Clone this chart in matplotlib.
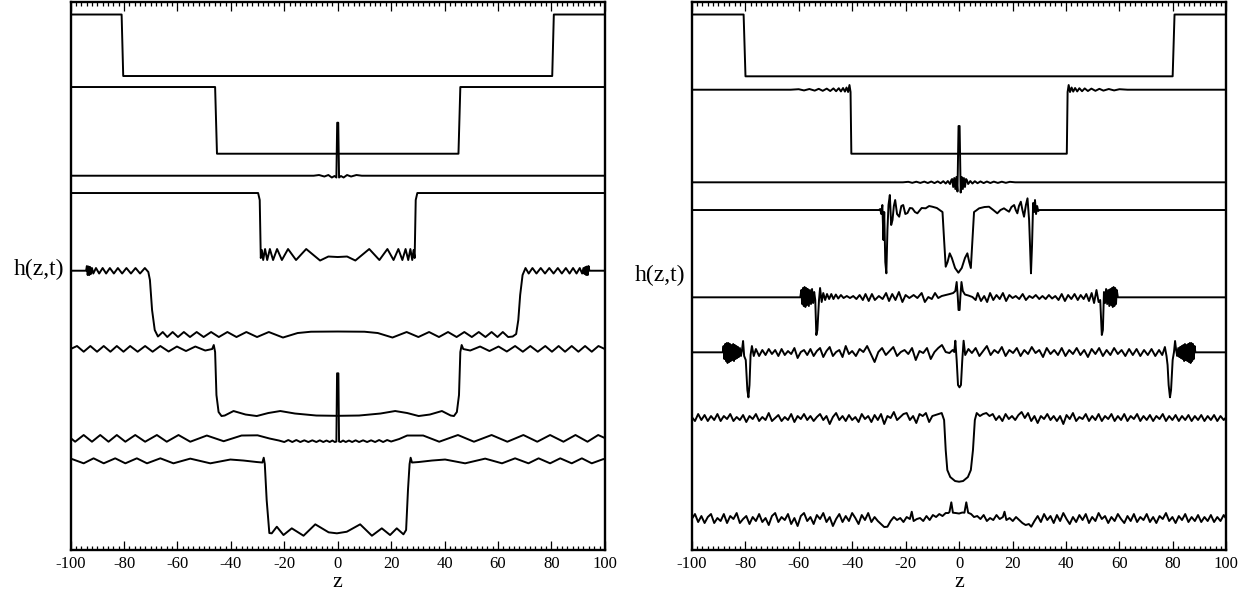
import matplotlib
matplotlib.use("Agg")
import matplotlib.pyplot as plt
from matplotlib.ticker import MultipleLocator

plt.rcParams['font.family'] = ['Liberation Serif', 'DejaVu Serif']
plt.rcParams['axes.unicode_minus'] = False

# curves: (z, vertical position in pixels from the top)
# left panel, top to bottom
left_1 = [(-100, 14.5), (-80.9, 14.5), (-80.3, 76), (80.3, 76), (80.9, 14.5), (100, 14.5)]
left_2 = [(-100, 87), (-45.9, 87), (-45.2, 153.7), (45.2, 153.7), (45.9, 87), (100, 87)]
left_3 = [(-100, 175.7), (-9, 175.7), (-7, 175), (-5, 176.5), (-3.5, 175), (-2.2, 177.5), (-1.2, 176),
          (-0.5, 177.5), (-0.2, 122.7), (0.2, 122.7), (0.5, 177.5), (1.2, 176), (2.2, 177.5), (3.5, 175),
          (5, 176.5), (7, 175), (9, 175.7), (100, 175.7)]
left_4 = [(-100, 193), (-29.8, 193), (-29.2, 200), (-28.8, 258), (-28.4, 250), (-27.9, 260), (-27.2, 249),
          (-26.4, 260), (-25.4, 249), (-24.2, 260), (-22.7, 249), (-20.9, 260), (-18.6, 249), (-15.6, 260),
          (-11.8, 249), (-6.6, 260.5), (-3.5, 256.5), (0, 257), (3.5, 256.5), (6.6, 260.5), (11.8, 249),
          (15.6, 260), (18.6, 249), (20.9, 260), (22.7, 249), (24.2, 260), (25.4, 249), (26.4, 260),
          (27.2, 249), (27.9, 260), (28.4, 250), (28.8, 258), (29.2, 200), (29.8, 193), (100, 193)]
left_5 = [(-100, 270.7), (-94.2, 270.7), (-93.9, 266), (-93.6, 275), (-93.3, 266.5), (-93.0, 275), (-92.7, 267),
          (-92.4, 274), (-92.0, 268), (-91.5, 273.5), (-90.5, 268), (-89.3, 273.5), (-88.0, 268), (-86.7, 273.5),
          (-85.3, 268), (-83.8, 273.5), (-82.3, 268), (-80.7, 273.5), (-79.1, 268), (-77.4, 273.5), (-75.7, 268),
          (-74.0, 273.5), (-72.2, 268), (-70.9, 272), (-70.3, 280), (-69.5, 310), (-68.5, 330), (-67.3, 336.5),
          (-65.5, 332), (-63.8, 337), (-61.8, 332), (-59.8, 337), (-57.6, 332), (-55.3, 337), (-52.8, 332),
          (-50.2, 337), (-47.4, 332), (-44.5, 337), (-41.3, 332), (-37.9, 337), (-34.2, 332), (-30.2, 337),
          (-25.8, 332), (-20.5, 337.5), (-15, 333), (-10, 331.7), (0, 331.5), (10, 331.7), (15, 333),
          (20.5, 337.5), (25.8, 332), (30.2, 337), (34.2, 332), (37.9, 337), (41.3, 332), (44.5, 337),
          (47.4, 332), (50.2, 337), (52.8, 332), (55.3, 337), (57.6, 332), (59.8, 337), (61.8, 332),
          (63.8, 337), (65.5, 336.5), (66.8, 334), (67.6, 320), (68.3, 295), (69.2, 275), (70.3, 268),
          (71.5, 273.5), (72.9, 268), (74.4, 273.5), (76.0, 268), (77.6, 273.5), (79.2, 268), (80.8, 273.5),
          (82.4, 268), (83.9, 273.5), (85.4, 268), (86.8, 273.5), (88.1, 268), (89.4, 273.5), (90.6, 268),
          (91.5, 273.5), (92.0, 268), (92.4, 274), (92.7, 267), (93.0, 275), (93.3, 266.5), (93.6, 275),
          (93.9, 266), (94.2, 270.7), (100, 270.7)]
left_6 = [(-100, 349), (-97.6, 346), (-95.1, 351.7), (-92.6, 346), (-90.1, 351.7), (-87.6, 346), (-85.1, 351.7),
          (-82.7, 346), (-80.2, 351.7), (-77.7, 346), (-74.9, 351.7), (-72.1, 346), (-69.3, 351.7), (-66.4, 346),
          (-63.3, 351.5), (-60.2, 346.5), (-56.8, 351), (-53.3, 346.5), (-49.6, 350.5), (-47, 349), (-46.4, 345),
          (-45.9, 352), (-45.4, 395), (-44.6, 412), (-43.5, 416), (-42.3, 415.5), (-39, 411), (-34.5, 414.5),
          (-30.3, 416), (-26, 413), (-21.5, 411), (-16, 413.5), (-8, 415.5), (0, 415.8), (8, 415.5), (16, 413.5),
          (21.5, 411), (26, 413), (30.3, 416), (34.5, 414.5), (39, 411), (42.3, 415.5), (43.5, 416), (44.6, 412),
          (45.4, 395), (45.9, 352), (46.4, 345), (47, 349), (49.6, 350.5), (53.3, 346.5), (56.8, 351),
          (60.2, 346.5), (63.3, 351.5), (66.4, 346), (69.3, 351.7), (72.1, 346), (74.9, 351.7), (77.7, 346),
          (80.2, 351.7), (82.7, 346), (85.1, 351.7), (87.6, 346), (90.1, 351.7), (92.6, 346), (95.1, 351.7),
          (97.6, 346), (100, 349)]
left_7 = [(-100, 438), (-98.3, 441.7), (-95.1, 435), (-92.0, 441.7), (-88.9, 435), (-85.8, 441.7), (-82.7, 435),
          (-79.5, 441.7), (-75.8, 435), (-72.1, 441.7), (-67.7, 435), (-64.0, 441.7), (-59.6, 435), (-55.2, 441.7),
          (-49.0, 435.5), (-42.7, 441.2), (-36, 435.5), (-30, 435.3), (-25.5, 438.5), (-22, 440.5), (-20, 442),
          (-18.5, 440), (-17, 442), (-15.5, 440), (-14, 442), (-12.5, 440.3), (-11, 442), (-9.5, 440.3), (-8, 442),
          (-6.7, 440.3), (-5.4, 442), (-4.2, 440.5), (-3, 442), (-2, 440.5), (-1.1, 442), (-0.5, 441.5),
          (-0.25, 373.3), (0.25, 373.3), (0.5, 441.5), (1.1, 442), (2, 440.5), (3, 442), (4.2, 440.5), (5.4, 442),
          (6.7, 440.3), (8, 442), (9.5, 440.3), (11, 442), (12.5, 440.3), (14, 442), (15.5, 440), (17, 442),
          (18.5, 440), (20, 441.5), (23, 439), (26, 435.5), (32, 435.5), (38, 441.7), (45, 435), (51, 441.7),
          (57.6, 435), (63.5, 441.7), (69.5, 435), (74.7, 441.7), (79.5, 435), (84.5, 441.7), (89.0, 435),
          (93.5, 441.7), (97.5, 435), (100, 438)]
left_8 = [(-100, 459.5), (-99.5, 459), (-95.1, 463.3), (-91.4, 458.3), (-87.6, 463.3), (-83.3, 458.3),
          (-79.5, 463.3), (-75.2, 458.3), (-71.4, 463.3), (-66.4, 458.3), (-61.5, 463.3), (-55.2, 458.6),
          (-47.7, 463.3), (-40.2, 459.5), (-35.3, 460.5), (-30.3, 462), (-28.2, 462.5), (-27.7, 457.7),
          (-27.3, 464), (-26.6, 500), (-25.6, 533), (-24.7, 533.3), (-22.8, 526.7), (-20.3, 535), (-17.2, 528.3),
          (-12.8, 535.7), (-8.4, 524.3), (-3.4, 532.3), (-0.3, 533.3), (3.4, 531.7), (8.4, 524.3), (12.8, 535.7),
          (16.5, 528.3), (19.6, 535), (22.1, 528.3), (24.6, 534.3), (25.6, 530), (26.3, 490), (26.9, 464),
          (27.3, 457.7), (27.8, 462.5), (30.3, 462), (35.3, 460.5), (40.2, 459.5), (47.7, 463.3), (55.2, 458.6),
          (61.5, 463.3), (66.4, 458.3), (71.4, 463.3), (75.2, 458.3), (79.5, 463.3), (83.3, 458.3), (87.6, 463.3),
          (91.4, 458.3), (95.1, 463.3), (99.5, 459), (100, 459.5)]

# right panel, top to bottom
right_1 = [(-100, 14.5), (-80.6, 14.5), (-79.9, 76.3), (79.9, 76.3), (80.6, 14.5), (100, 14.5)]
right_2 = [(-100, 89.7), (-63, 89.7), (-60, 89.2), (-58, 90.4), (-56, 89.0), (-54, 90.6), (-52.5, 88.8),
           (-51, 90.8), (-49.5, 88.6), (-48.2, 91), (-47, 88.4), (-46, 91.2), (-45, 88.2), (-44.2, 91.4),
           (-43.4, 88), (-42.7, 91.6), (-42.1, 87.5), (-41.5, 92), (-41.0, 85), (-40.6, 92), (-40.3, 153.7),
           (40.3, 153.7), (40.6, 92), (41.0, 85), (41.5, 92), (42.1, 87.5), (42.7, 91.6), (43.4, 88), (44.2, 91.4),
           (45, 88.2), (46, 91.2), (47, 88.4), (48.2, 91), (49.5, 88.6), (51, 90.8), (52.5, 88.8), (54, 90.6),
           (56, 89.0), (58, 90.4), (60, 89.2), (63, 89.7), (100, 89.7)]
right_3 = [(-100, 182.3), (-21, 182.3), (-19, 181.8), (-17.5, 182.8), (-16, 181.7), (-14.5, 182.9), (-13, 181.6),
           (-11.7, 183), (-10.4, 181.5), (-9.2, 183.1), (-8, 181.4), (-6.9, 183.2), (-5.9, 181.2), (-5, 183.5),
           (-4.2, 181), (-3.4, 184), (-2.9, 180), (-2.6, 179), (-2.2, 187), (-1.8, 178), (-1.4, 189), (-1, 177),
           (-0.6, 191.5), (-0.2, 126), (0.2, 126), (0.6, 192.5), (1, 177), (1.4, 189), (1.8, 178), (2.2, 187),
           (2.6, 179), (2.9, 180), (3.4, 184), (4.2, 181), (5, 183.5), (5.9, 181.2), (6.9, 183.2), (8, 181.4),
           (9.2, 183.1), (10.4, 181.5), (11.7, 183), (13, 181.6), (14.5, 182.9), (16, 181.7), (17.5, 182.8),
           (19, 181.8), (21, 182.3), (100, 182.3)]
right_4 = [(-100, 210), (-30, 210), (-29.5, 209), (-29.1, 214), (-28.7, 205), (-28.3, 240), (-28, 212),
           (-27.6, 262), (-27.2, 273.3), (-26.8, 230), (-26.4, 205), (-25.9, 195), (-25.4, 225), (-24.9, 220),
           (-24.4, 206), (-23.9, 200), (-23.2, 214), (-22.4, 216.7), (-21.6, 206), (-20.9, 205), (-20.1, 214),
           (-19.3, 213), (-18.4, 208), (-17.5, 208.3), (-16.5, 212), (-15.6, 213.3), (-14, 208), (-12.5, 208.3),
           (-11.2, 206), (-10, 206.7), (-8.3, 208), (-6.9, 210.7), (-6.2, 212), (-5.6, 240), (-5.0, 266.7),
           (-4.3, 262), (-3.5, 253.3), (-2.7, 258), (-1.5, 268), (-0.25, 272.7), (1, 268), (2.2, 258),
           (3.1, 253.3), (3.8, 262), (4.4, 268), (5.0, 240), (5.6, 212), (6.4, 210.5), (7.5, 208.3), (9.5, 207),
           (11.2, 206.7), (12.8, 210), (14.3, 213.3), (15.5, 210), (16.8, 208.3), (17.7, 210), (18.7, 211.7),
           (19.6, 207), (20.6, 205), (21.2, 210), (21.8, 213.3), (22.4, 206), (23.1, 201.7), (23.7, 210),
           (24.3, 216.7), (25.0, 205), (25.6, 198.3), (26.2, 220), (26.6, 250), (26.9, 273.3), (27.3, 245),
           (27.7, 203), (28.1, 212), (28.4, 200), (28.8, 214), (29.2, 206), (29.6, 211), (30, 210), (100, 210)]
right_5 = [(-100, 297.3), (-59.4, 297.3), (-59.0, 290), (-58.7, 304), (-58.4, 288), (-58.1, 306), (-57.8, 287),
           (-57.5, 307), (-57.2, 288), (-56.9, 305), (-56.6, 289), (-56.2, 306), (-55.8, 290), (-55.4, 304),
           (-55.0, 289), (-54.6, 303), (-54.2, 292), (-53.8, 300), (-53.4, 335), (-53.0, 330), (-52.4, 300),
           (-52.0, 288), (-51.4, 302), (-50.8, 293), (-50.1, 300), (-49.4, 294), (-48.6, 299), (-47.8, 294),
           (-47.0, 299), (-46.1, 294.5), (-45.2, 298.5), (-44.2, 295), (-43.2, 298), (-42.0, 296), (-40.8, 298),
           (-39.6, 296), (-38.4, 299), (-37.2, 295), (-36.0, 300), (-35.0, 294), (-33.8, 301), (-32.6, 294),
           (-31.5, 300), (-30.0, 296), (-28.6, 299), (-27.3, 293), (-26.2, 301), (-25.0, 294), (-23.8, 300),
           (-22.5, 292), (-21.2, 302), (-20.0, 295), (-18.6, 298), (-17.0, 295), (-15.6, 298), (-14.0, 293),
           (-12.8, 302), (-11.5, 297), (-10.2, 299), (-9.0, 293), (-7.8, 298), (-6.5, 296), (-5.0, 295),
           (-3.5, 294), (-2.2, 293), (-1.4, 291), (-0.9, 282), (-0.5, 296), (-0.2, 310), (0.2, 310), (0.5, 296),
           (0.9, 282), (1.4, 291), (2.2, 294.5), (3.5, 295.5), (5.0, 297), (6.2, 300), (7.0, 293), (8.2, 301),
           (9.4, 296), (10.5, 302), (11.6, 293), (12.8, 300), (14.0, 295), (15.2, 299), (16.4, 293), (17.6, 301),
           (18.8, 295), (20.0, 298), (21.2, 296), (22.5, 299), (23.8, 294), (25.0, 300), (26.3, 296), (27.5, 298),
           (28.7, 295), (30.0, 299), (31.2, 296), (32.4, 299), (33.6, 295), (34.8, 298.5), (36.0, 296),
           (37.2, 300), (38.4, 294), (39.6, 301), (40.8, 295), (42.0, 299), (43.2, 294), (44.4, 300), (45.5, 295),
           (46.6, 299), (47.6, 294), (48.6, 301), (49.6, 293), (50.5, 303), (51.4, 290), (52.2, 302), (52.8, 300),
           (53.4, 335), (53.8, 330), (54.2, 292), (54.6, 303), (55.0, 289), (55.4, 304), (55.8, 290), (56.2, 306),
           (56.6, 289), (56.9, 305), (57.2, 288), (57.5, 307), (57.8, 287), (58.1, 306), (58.4, 288), (58.7, 304),
           (59.0, 290), (59.4, 297.3), (100, 297.3)]
right_6 = [(-100, 352.3), (-88.4, 352.3), (-88.1, 346), (-87.8, 359), (-87.5, 344), (-87.2, 361), (-86.9, 343),
           (-86.6, 363), (-86.3, 343), (-86.0, 362), (-85.7, 344), (-85.4, 361), (-85.1, 345), (-84.8, 360),
           (-84.5, 344), (-84.2, 361), (-83.9, 345), (-83.6, 359), (-83.3, 346), (-83.0, 358), (-82.7, 347),
           (-82.4, 357), (-82.0, 348), (-81.6, 356), (-81.2, 350), (-80.8, 341), (-80.4, 356), (-79.8, 360),
           (-79.2, 390), (-78.8, 397.3), (-78.4, 385), (-78.0, 355), (-77.5, 346), (-76.8, 356), (-76.0, 349),
           (-74.8, 356), (-73.6, 350), (-72.4, 355), (-71.2, 349), (-70.0, 354), (-68.8, 350), (-67.6, 356),
           (-66.4, 349), (-65.2, 355), (-64.0, 351), (-62.8, 354), (-61.6, 348), (-60.4, 358), (-59.2, 352),
           (-58.0, 350), (-56.8, 355), (-55.6, 349), (-54.4, 356), (-53.2, 351), (-52.0, 348), (-50.8, 357),
           (-49.6, 351), (-48.4, 347), (-47.2, 356), (-46.0, 352), (-44.8, 350), (-43.6, 357), (-42.4, 346),
           (-41.2, 354), (-40.0, 351), (-38.6, 356), (-37.2, 349), (-35.8, 352), (-34.4, 346), (-33.0, 354),
           (-31.6, 362), (-30.2, 352), (-28.8, 348), (-27.4, 355), (-26.0, 351), (-24.6, 347), (-23.2, 356),
           (-21.8, 352), (-20.4, 350), (-19.0, 354), (-17.6, 348), (-16.2, 360), (-14.8, 351), (-13.4, 353),
           (-12.0, 348), (-10.6, 359), (-9.2, 352), (-7.8, 348), (-6.4, 345), (-5.0, 352), (-3.6, 353),
           (-2.4, 350), (-1.8, 352), (-1.4, 340.7), (-0.9, 360), (-0.4, 385), (0.15, 387.3), (0.7, 385),
           (1.2, 360), (1.7, 340.7), (2.3, 355), (3.5, 349), (4.8, 353), (6.2, 348), (7.6, 356), (9.0, 351),
           (10.4, 346), (11.8, 355), (13.2, 350), (14.6, 353), (16.0, 347), (17.4, 356), (18.8, 350), (20.2, 353),
           (21.6, 348), (23.0, 356), (24.4, 350), (25.8, 354), (27.2, 347), (28.6, 353), (30.0, 350), (31.4, 357),
           (32.8, 348), (34.2, 354), (35.6, 350), (37.0, 355), (38.4, 348), (39.8, 356), (41.2, 350), (42.6, 354),
           (44.0, 348), (45.4, 355), (46.8, 350), (48.2, 357), (49.6, 349), (51.0, 354), (52.4, 348), (53.8, 356),
           (55.2, 350), (56.6, 355), (58.0, 348), (59.4, 354), (60.8, 350), (62.2, 356), (63.6, 349), (65.0, 355),
           (66.4, 349), (67.8, 356), (69.2, 350), (70.6, 355), (72.0, 349), (73.4, 356), (74.8, 350), (76.0, 355),
           (77.0, 347), (77.6, 356), (78.0, 365), (78.4, 385), (78.9, 397.3), (79.3, 390), (79.9, 360),
           (80.4, 352), (80.8, 341), (81.2, 350), (81.6, 356), (82.0, 348), (82.4, 357), (82.7, 347), (83.0, 358),
           (83.3, 346), (83.6, 359), (83.9, 345), (84.2, 361), (84.5, 344), (84.8, 360), (85.1, 345), (85.4, 361),
           (85.7, 344), (86.0, 362), (86.3, 343), (86.6, 363), (86.9, 343), (87.2, 361), (87.5, 344), (87.8, 359),
           (88.1, 346), (88.4, 352.3), (100, 352.3)]
right_7 = [(-100, 417), (-98.8, 421), (-97.6, 414), (-96.4, 420), (-95.2, 415), (-94.0, 421), (-92.8, 416),
           (-91.6, 420), (-90.4, 414), (-89.2, 421), (-88.0, 416), (-86.8, 419), (-85.6, 414), (-84.4, 421),
           (-83.2, 417), (-82.0, 420), (-80.8, 415), (-79.6, 422), (-78.4, 416), (-77.2, 419), (-76.0, 414),
           (-74.8, 421), (-73.6, 417), (-72.4, 420), (-71.2, 413), (-70.0, 421), (-68.8, 418), (-67.6, 415),
           (-66.4, 421), (-65.2, 417), (-64.0, 420), (-62.8, 414), (-61.6, 422), (-60.4, 416), (-59.2, 419),
           (-58.0, 414), (-56.8, 420), (-55.6, 416), (-54.4, 421), (-53.2, 417), (-52.0, 414), (-50.8, 420),
           (-49.6, 416), (-48.4, 424), (-47.2, 417), (-46.0, 413), (-44.8, 420), (-43.6, 416), (-42.4, 421),
           (-41.2, 415), (-40.0, 420), (-38.8, 417), (-37.6, 422), (-36.4, 414), (-35.2, 419), (-34.0, 416),
           (-32.8, 422), (-31.6, 415), (-30.4, 420), (-29.2, 414), (-28.0, 424), (-26.8, 416), (-25.6, 418),
           (-24.4, 412), (-23.2, 420), (-22.0, 417), (-20.8, 414), (-19.6, 413), (-18.4, 420), (-17.2, 416),
           (-16.0, 423), (-14.8, 414), (-13.6, 416), (-12.4, 413), (-11.2, 422), (-10.0, 416), (-8.8, 415),
           (-7.6, 414), (-6.5, 413), (-5.6, 420), (-5.0, 450), (-4.4, 470), (-3.3, 477), (-1.5, 481), (0, 481.7),
           (1.5, 481), (3.3, 477), (4.4, 470), (5.2, 450), (5.9, 420), (6.6, 413), (7.8, 416), (9.0, 414),
           (10.2, 413), (11.4, 416), (12.6, 414), (13.8, 420), (15.0, 416), (16.2, 421), (17.4, 414), (18.6, 419),
           (19.8, 416), (21.0, 420), (22.2, 415), (23.4, 412), (24.6, 418), (25.8, 413), (27.0, 421), (28.2, 416),
           (29.4, 423), (30.6, 416), (31.8, 419), (33.0, 414), (34.2, 420), (35.4, 416), (36.6, 421), (37.8, 416),
           (39.0, 424), (40.2, 415), (41.4, 419), (42.6, 413), (43.8, 421), (45.0, 417), (46.2, 419), (47.4, 414),
           (48.6, 421), (49.8, 416), (51.0, 420), (52.2, 414), (53.4, 421), (54.6, 416), (55.8, 419), (57.0, 414),
           (58.2, 421), (59.4, 416), (60.6, 420), (61.8, 414), (63.0, 421), (64.2, 416), (65.4, 419), (66.6, 414),
           (67.8, 421), (69.0, 416), (70.2, 420), (71.4, 415), (72.6, 421), (73.8, 416), (75.0, 419), (76.2, 414),
           (77.4, 421), (78.6, 416), (79.8, 420), (81.0, 415), (82.2, 421), (83.4, 416), (84.6, 420), (85.8, 415),
           (87.0, 421), (88.2, 416), (89.4, 420), (90.6, 415), (91.8, 421), (93.0, 416), (94.2, 420), (95.4, 415),
           (96.6, 421), (97.8, 416), (99.0, 420), (100, 417)]
right_8 = [(-100, 519), (-98.8, 514), (-97.6, 522), (-96.4, 516), (-95.2, 523), (-94.0, 517), (-92.8, 514),
           (-91.6, 523), (-90.4, 518), (-89.2, 521), (-88.0, 514), (-86.8, 523), (-85.6, 516), (-84.4, 519),
           (-83.2, 513), (-82.0, 523), (-80.8, 519), (-79.6, 516), (-78.4, 524), (-77.2, 517), (-76.0, 521),
           (-74.8, 514), (-73.6, 522), (-72.4, 518), (-71.2, 525), (-70.0, 516), (-68.8, 513), (-67.6, 522),
           (-66.4, 517), (-65.2, 520), (-64.0, 514), (-62.8, 524), (-61.6, 518), (-60.4, 526), (-59.2, 516),
           (-58.0, 513), (-56.8, 521), (-55.6, 517), (-54.4, 524), (-53.2, 515), (-52.0, 519), (-50.8, 513),
           (-49.6, 522), (-48.4, 517), (-47.2, 526), (-46.0, 519), (-44.8, 514), (-43.6, 522), (-42.4, 516),
           (-41.2, 521), (-40.0, 513), (-38.8, 518), (-37.6, 524), (-36.4, 515), (-35.2, 520), (-34.0, 513),
           (-32.8, 522), (-31.6, 517), (-30.4, 521), (-29.2, 524), (-28.0, 527), (-26.8, 526.7), (-25.6, 521),
           (-24.4, 517), (-23.2, 520), (-22.0, 518), (-20.8, 522), (-19.6, 517), (-18.4, 519), (-17.7, 511.7),
           (-17.0, 521), (-15.8, 519), (-14.6, 518), (-13.4, 521), (-12.2, 516), (-11.0, 520), (-9.8, 515),
           (-8.6, 517), (-7.4, 514), (-6.2, 516), (-5.0, 513), (-4.0, 513), (-3.6, 512), (-2.9, 502.3),
           (-2.3, 512.7), (-1.2, 513), (0, 513.5), (1.2, 512.5), (2.0, 512.7), (2.7, 502.3), (3.4, 512.7),
           (4.5, 514), (5.6, 517), (6.8, 516), (8.0, 519), (9.2, 515), (10.4, 521), (11.6, 518), (12.8, 520),
           (14.0, 515), (15.2, 519), (16.4, 517), (17.0, 511.7), (17.7, 520), (18.9, 518), (20.1, 521),
           (21.3, 517), (22.5, 520), (23.7, 523), (24.9, 525), (26.1, 524), (27.0, 526.7), (28.2, 521),
           (29.4, 516), (30.6, 522), (31.8, 514), (33.0, 520), (34.2, 516), (35.4, 523), (36.6, 515), (37.8, 521),
           (39.0, 513), (40.2, 519), (41.4, 524), (42.6, 517), (43.8, 522), (45.0, 515), (46.2, 520), (47.4, 514),
           (48.6, 523), (49.8, 517), (51.0, 521), (52.2, 513), (53.4, 519), (54.6, 516), (55.8, 523), (57.0, 517),
           (58.2, 521), (59.4, 514), (60.6, 519), (61.8, 523), (63.0, 516), (64.2, 521), (65.4, 514), (66.6, 522),
           (67.8, 517), (69.0, 520), (70.2, 514), (71.4, 522), (72.6, 517), (73.8, 523), (75.0, 516), (76.2, 519),
           (77.4, 513), (78.6, 521), (79.8, 517), (81.0, 523), (82.2, 516), (83.4, 520), (84.6, 514), (85.8, 522),
           (87.0, 517), (88.2, 521), (89.4, 515), (90.6, 522), (91.8, 517), (93.0, 521), (94.2, 515), (95.4, 522),
           (96.6, 517), (97.8, 521), (99.0, 515), (100, 519)]

left_curves = [left_1, left_2, left_3, left_4, left_5, left_6, left_7, left_8]
right_curves = [right_1, right_2, right_3, right_4, right_5, right_6, right_7, right_8]

fig = plt.figure(figsize=(12.55, 5.92), dpi=100)
ax_l = fig.add_axes([0.05625, 0.0709, 0.4257, 0.9257])
ax_r = fig.add_axes([0.5512, 0.0709, 0.426, 0.9257])

for ax, curves in [(ax_l, left_curves), (ax_r, right_curves)]:
    for c in curves:
        zs = [p[0] for p in c]
        hs = [p[1] for p in c]
        ax.plot(zs, hs, color='black', lw=1.4, solid_joinstyle='round')
    ax.set_xlim(-100, 100)
    ax.set_ylim(550, 2)
    ax.set_yticks([])
    ax.xaxis.set_major_locator(MultipleLocator(20))
    ax.xaxis.set_minor_locator(MultipleLocator(2))
    ax.tick_params(axis='x', which='both', direction='in', top=True, bottom=True,
                   labelsize=12, pad=4, width=0.9, color='black')
    ax.tick_params(axis='x', which='major', length=6.5)
    ax.tick_params(axis='x', which='minor', length=3.2)
    for s in ax.spines.values():
        s.set_linewidth(1.7)

# axis titles placed where they sit in the picture
fig.text(0.2690, 0.0160, 'z', fontsize=16, ha='center', va='center')
fig.text(0.7642, 0.0160, 'z', fontsize=16, ha='center', va='center')
fig.text(0.0514, 0.544, 'h(z,t)', fontsize=17, ha='right', va='center')
fig.text(0.5463, 0.535, 'h(z,t)', fontsize=17, ha='right', va='center')

fig.savefig('out.png', dpi=100, facecolor='white')
